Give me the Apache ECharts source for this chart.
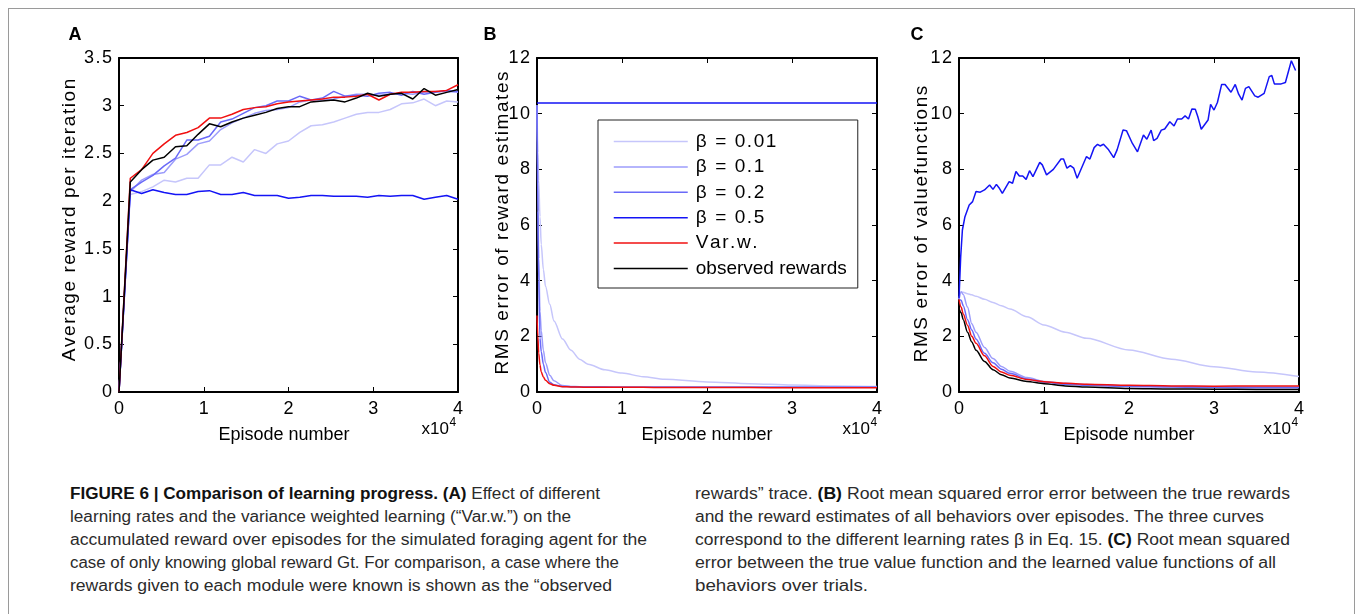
<!DOCTYPE html>
<html>
<head>
<meta charset="utf-8">
<script src="https://cdn.jsdelivr.net/npm/echarts/dist/echarts.min.js"></script>
<style>
  body { margin: 0; background: #fff; }
  #frame { position: absolute; left: 8px; top: 8px; width: 1345px; height: 700px; border: 1px solid #9a9a9a; }
  #main { position: absolute; left: 0; top: 0; width: 1356px; height: 460px; }
  .cap { position: absolute; font-family: "Liberation Sans Narrow", "Liberation Sans", Arial, sans-serif;
         font-size: 16px; line-height: 23px; color: #2b2b2b; white-space: nowrap; transform-origin: 0 50%; }
  .cap b { color: #111; }
</style>
</head>
<body>
<div id="frame"></div>
<div id="main"></div>
<div id="caption"></div>
<script>
// panel A: average reward, sampled every 1333 episodes
const aX = [0, 1333, 2667, 4000, 5333, 6667, 8000, 9333, 10667, 12000, 13333, 14667, 16000, 17333, 18667, 20000,
  21333, 22667, 24000, 25333, 26667, 28000, 29333, 30667, 32000, 33333, 34667, 36000, 37333, 38667, 40000];
const aB001 = [0, 2.07, 2.1, 2.15, 2.22, 2.2, 2.24, 2.24, 2.38, 2.38, 2.46, 2.41, 2.54, 2.5, 2.6, 2.63, 2.72, 2.79, 2.8, 2.83, 2.87, 2.91, 2.93, 2.93, 2.96, 3.02, 3.03, 3.07, 3.0, 3.05, 3.04];
const aB01 = [0, 2.1, 2.22, 2.28, 2.3, 2.44, 2.49, 2.6, 2.63, 2.75, 2.82, 2.87, 2.92, 2.95, 2.96, 2.98, 3.04, 3.06, 3.06, 3.07, 3.1, 3.12, 3.12, 3.11, 3.12, 3.13, 3.12, 3.14, 3.15, 3.15, 3.14];
const aB02 = [0, 2.12, 2.2, 2.27, 2.37, 2.45, 2.64, 2.64, 2.68, 2.83, 2.86, 2.92, 2.98, 3.0, 3.05, 3.05, 3.1, 3.06, 3.08, 3.15, 3.1, 3.11, 3.1, 3.13, 3.14, 3.11, 3.15, 3.12, 3.14, 3.16, 3.15];
const aB05 = [0, 2.12, 2.08, 2.12, 2.09, 2.07, 2.07, 2.1, 2.11, 2.07, 2.07, 2.09, 2.06, 2.06, 2.06, 2.03, 2.04, 2.06, 2.06, 2.05, 2.05, 2.05, 2.04, 2.06, 2.05, 2.06, 2.06, 2.02, 2.04, 2.06, 2.02];
const aVarw = [0, 2.24, 2.33, 2.5, 2.6, 2.69, 2.72, 2.77, 2.87, 2.87, 2.91, 2.96, 2.98, 2.99, 3.02, 3.04, 3.05, 3.06, 3.07, 3.09, 3.09, 3.1, 3.12, 3.06, 3.12, 3.14, 3.14, 3.15, 3.15, 3.16, 3.22];
const aObs = [0, 2.2, 2.33, 2.43, 2.46, 2.57, 2.58, 2.7, 2.81, 2.78, 2.83, 2.87, 2.9, 2.93, 2.97, 2.99, 2.99, 3.04, 3.05, 3.06, 3.04, 3.08, 3.13, 3.1, 3.12, 3.13, 3.07, 3.18, 3.11, 3.14, 3.17];

// panel B: RMS error of reward estimates
const bX = [0, 100, 200, 350, 500, 750, 1000, 1500, 2000, 3000, 4000, 5000, 6000, 8000, 10000, 12500, 15000, 20000, 25000, 30000, 35000, 40000];
const bB001 = [10.3, 8.6, 7.6, 6.3, 5.3, 4.4, 3.8, 3.15, 2.55, 1.9, 1.5, 1.18, 1.0, 0.8, 0.68, 0.55, 0.46, 0.36, 0.3, 0.25, 0.22, 0.2];
const bB01 = [10.3, 7.5, 4.8, 2.9, 2.2, 1.5, 1.05, 0.6, 0.4, 0.23, 0.2, 0.19, 0.19, 0.18, 0.18, 0.18, 0.18, 0.18, 0.18, 0.18, 0.18, 0.18];
const bB02 = [10.3, 6.5, 4.0, 1.93, 1.45, 1.0, 0.7, 0.35, 0.26, 0.2, 0.19, 0.18, 0.18, 0.18, 0.17, 0.17, 0.17, 0.17, 0.17, 0.17, 0.17, 0.17];
const bB05 = [10.38, 10.38, 10.38, 10.38, 10.38, 10.38, 10.38, 10.38, 10.38, 10.38, 10.38, 10.38, 10.38, 10.38, 10.38, 10.38, 10.38, 10.38, 10.38, 10.38, 10.38, 10.38];
const bVarw = [2.75, 2.0, 1.4, 0.97, 0.72, 0.54, 0.42, 0.3, 0.24, 0.19, 0.18, 0.18, 0.17, 0.17, 0.17, 0.17, 0.16, 0.16, 0.16, 0.15, 0.15, 0.15];

// panel C: RMS error of value functions
const cX = [0, 250, 500, 1000, 1500, 2000, 3000, 4000, 5000, 6000, 8000, 10000, 12500, 15000, 20000, 25000, 30000, 35000, 40000];
const cB001 = [3.33, 3.6, 3.58, 3.53, 3.49, 3.44, 3.33, 3.22, 3.1, 2.98, 2.7, 2.41, 2.15, 1.93, 1.51, 1.18, 0.91, 0.72, 0.56];
const cB01 = [3.33, 3.6, 3.5, 3.05, 2.45, 2.15, 1.6, 1.2, 0.92, 0.75, 0.52, 0.38, 0.31, 0.27, 0.22, 0.2, 0.19, 0.18, 0.18];
const cB02 = [3.33, 3.3, 3.1, 2.6, 2.23, 1.9, 1.39, 1.05, 0.82, 0.67, 0.47, 0.35, 0.28, 0.24, 0.2, 0.18, 0.16, 0.15, 0.15];
const cVarw = [3.33, 3.05, 2.8, 2.4, 2.0, 1.75, 1.3, 0.92, 0.72, 0.6, 0.45, 0.37, 0.31, 0.28, 0.24, 0.22, 0.21, 0.22, 0.22];
const cObs = [3.0, 2.85, 2.6, 2.15, 1.8, 1.5, 1.1, 0.8, 0.62, 0.5, 0.38, 0.3, 0.22, 0.18, 0.13, 0.11, 0.1, 0.09, 0.09];
const cB05X = [0, 200, 400, 700, 1200, 1600, 2000, 2500, 3000, 3600, 4000, 4400, 4700, 5100, 5900, 6300, 6700, 7100, 7500, 7900, 8300,
  8700, 9500, 9800, 10300, 11100, 12000, 12300, 12700, 13100, 13500, 13900, 15000, 15400, 15900, 16300, 16600, 17000, 17600, 18200, 18600,
  19300, 19700, 20400, 21000, 21700, 22100, 22600, 22900, 23300, 23800, 24200, 24800, 25300, 25700, 26200, 26600, 27000, 27400, 27800,
  28100, 28500, 29300, 29600, 30000, 30400, 30900, 31300, 32000, 32500, 32900, 33300, 33700, 34100, 34800, 35200, 35900, 36500, 36800,
  37100, 37900, 38400, 39100, 39600];
const cB05 = [3.37, 4.86, 5.82, 6.3, 6.72, 6.84, 7.2, 7.18, 7.26, 7.44, 7.28, 7.46, 7.34, 7.14, 7.56, 7.5, 7.92, 7.76, 7.76, 7.64, 7.95,
  7.74, 8.25, 8.16, 7.8, 8.0, 8.37, 8.37, 8.04, 8.13, 8.04, 7.68, 8.46, 8.37, 8.78, 8.9, 8.84, 8.9, 8.7, 8.42, 8.7,
  9.41, 9.39, 8.93, 8.63, 9.23, 9.08, 9.41, 9.03, 9.11, 9.41, 9.45, 9.71, 9.56, 9.81, 9.81, 9.92, 9.81, 10.17, 10.16,
  9.89, 9.44, 9.77, 10.33, 10.13, 10.4, 11.05, 11.05, 10.77, 11.05, 10.7, 10.49, 10.91, 10.97, 10.64, 10.59, 10.73, 11.33, 11.37,
  11.07, 11.07, 11.12, 11.9, 11.55];

const names = ['β = 0.01', 'β = 0.1', 'β = 0.2', 'β = 0.5', 'Var.w.', 'observed rewards'];
const colors = ['#c6c6fb', '#9d9dfb', '#6a6af8', '#1414f5', '#f01010', '#000000'];

const FONT = 'Liberation Sans, Arial, Helvetica, sans-serif';
const HS = '\u200A';
const spaced = s => s.split('').join(HS);

const grids = [
  { left: 119, top: 58, width: 339, height: 334 },
  { left: 537, top: 58, width: 340, height: 334 },
  { left: 959, top: 58, width: 340, height: 334 }
];
const yRange = [[3.5, 0.5], [12, 2], [12, 2]];

let xAxis = [], yAxis = [];
grids.forEach((g, i) => {
  ['bottom', 'top'].forEach(pos => {
    xAxis.push({
      type: 'value', gridIndex: i, position: pos, min: 0, max: 40000, interval: 10000,
      axisLine: { onZero: false, lineStyle: { color: '#000', width: 2 } },
      axisTick: { inside: true, length: 5, lineStyle: { color: '#000', width: 1 } },
      axisLabel: { show: pos === 'bottom', formatter: v => String(v / 10000), color: '#000', fontSize: 18, fontFamily: FONT, margin: 8 },
      splitLine: { show: false }
    });
  });
  ['left', 'right'].forEach(pos => {
    yAxis.push({
      type: 'value', gridIndex: i, position: pos, min: 0, max: yRange[i][0], interval: yRange[i][1],
      axisLine: { onZero: false, lineStyle: { color: '#000', width: 2 } },
      axisTick: { inside: true, length: 5, lineStyle: { color: '#000', width: 1 } },
      axisLabel: { show: pos === 'left', formatter: v => spaced(String(v)), color: '#000', fontSize: 18, fontFamily: FONT, margin: 7 },
      splitLine: { show: false }
    });
  });
});

function line(name, g, xs, ys, smooth) {
  const color = colors[names.indexOf(name)];
  return {
    name, type: 'line', xAxisIndex: g * 2, yAxisIndex: g * 2,
    data: xs.map((x, k) => [x, ys[k]]),
    symbol: 'none', smooth: smooth ? 0.3 : false, smoothMonotone: 'x',
    lineStyle: { color, width: 1.5 }, itemStyle: { color }, silent: true
  };
}

const series = [
  line(names[0], 0, aX, aB001), line(names[1], 0, aX, aB01), line(names[2], 0, aX, aB02),
  line(names[3], 0, aX, aB05), line(names[4], 0, aX, aVarw), line(names[5], 0, aX, aObs),
  line(names[0], 1, bX, bB001, true), line(names[1], 1, bX, bB01, true), line(names[2], 1, bX, bB02, true),
  line(names[3], 1, bX, bB05), line(names[4], 1, bX, bVarw, true),
  line(names[0], 2, cX, cB001, true), line(names[1], 2, cX, cB01, true), line(names[2], 2, cX, cB02, true),
  line(names[3], 2, cB05X, cB05), line(names[4], 2, cX, cVarw, true), line(names[5], 2, cX, cObs, true)
];

function txt(text, x, y, size) {
  return { type: 'text', x, y, style: { text, font: size + 'px ' + FONT, fill: '#000', align: 'center', verticalAlign: 'middle' } };
}
function vtxt(text, x, y) {
  return { type: 'text', x, y, rotation: Math.PI / 2,
    style: { text: spaced(text), font: '19px ' + FONT, fill: '#000', align: 'center', verticalAlign: 'middle' } };
}
const graphic = [
  { type: 'text', x: 75, y: 35, style: { text: 'A', font: 'bold 18px ' + FONT, fill: '#000', align: 'center', verticalAlign: 'middle' } },
  { type: 'text', x: 490, y: 35, style: { text: 'B', font: 'bold 18px ' + FONT, fill: '#000', align: 'center', verticalAlign: 'middle' } },
  { type: 'text', x: 917, y: 35, style: { text: 'C', font: 'bold 18px ' + FONT, fill: '#000', align: 'center', verticalAlign: 'middle' } },
  vtxt('Average reward per iteration', 70, 220),
  vtxt('RMS error of reward estimates', 503, 223),
  vtxt('RMS error of valuefunctions', 922, 224),
  txt('Episode number', 284, 435, 18), txt('Episode number', 707, 435, 18), txt('Episode number', 1129, 435, 18)
];
[449, 870, 1291].forEach(x => {
  graphic.push({ type: 'text', x, y: 429, style: { text: 'x10', font: '17px ' + FONT, fill: '#000', align: 'right', verticalAlign: 'middle' } });
  graphic.push({ type: 'text', x: x + 0.5, y: 423, style: { text: '4', font: '12px ' + FONT, fill: '#000', align: 'left', verticalAlign: 'middle' } });
});

const chart = echarts.init(document.getElementById('main'));
chart.setOption({
  animation: false,
  backgroundColor: 'transparent',
  grid: grids,
  xAxis, yAxis, series, graphic,
  legend: {
    data: names, orient: 'vertical', left: 598, top: 120,
    padding: [12, 11, 10, 15], itemWidth: 74, itemHeight: 20, itemGap: 6.4,
    borderColor: '#222', borderWidth: 1, backgroundColor: '#fff', selectedMode: false,
    itemStyle: { opacity: 0 },
    lineStyle: { width: 1.5 },
    formatter: n => n === 'observed rewards' ? n : spaced(n),
    textStyle: { fontSize: 19, color: '#000', fontFamily: FONT, padding: [0, 0, 0, 3] }
  }
});

// caption, two columns, each line fitted to its width in the figure
const capLeft = [
  ['<b>FIGURE 6 | Comparison of learning progress. (A)</b> Effect of different', 600],
  ['learning rates and the variance weighted learning (“Var.w.”) on the', 571],
  ['accumulated reward over episodes for the simulated foraging agent for the', 647],
  ['case of only knowing global reward Gt. For comparison, a case where the', 619],
  ['rewards given to each module were known is shown as the “observed', 612]
];
const capRight = [
  ['rewards” trace. <b>(B)</b> Root mean squared error error between the true rewards', 1290],
  ['and the reward estimates of all behaviors over episodes. The three curves', 1264],
  ['correspond to the different learning rates β in Eq. 15. <b>(C)</b> Root mean squared', 1290],
  ['error between the true value function and the learned value functions of all', 1276],
  ['behaviors over trials.', 868]
];
const cap = document.getElementById('caption');
function addLines(lines, x0) {
  lines.forEach((l, k) => {
    const d = document.createElement('div');
    d.className = 'cap';
    d.innerHTML = l[0];
    d.style.left = x0 + 'px';
    d.style.top = (481.5 + k * 23.2) + 'px';
    cap.appendChild(d);
    const w = d.getBoundingClientRect().width;
    d.style.transform = 'scaleX(' + ((l[1] - x0) / w) + ')';
  });
}
addLines(capLeft, 70);
addLines(capRight, 695);
</script>
</body>
</html>
